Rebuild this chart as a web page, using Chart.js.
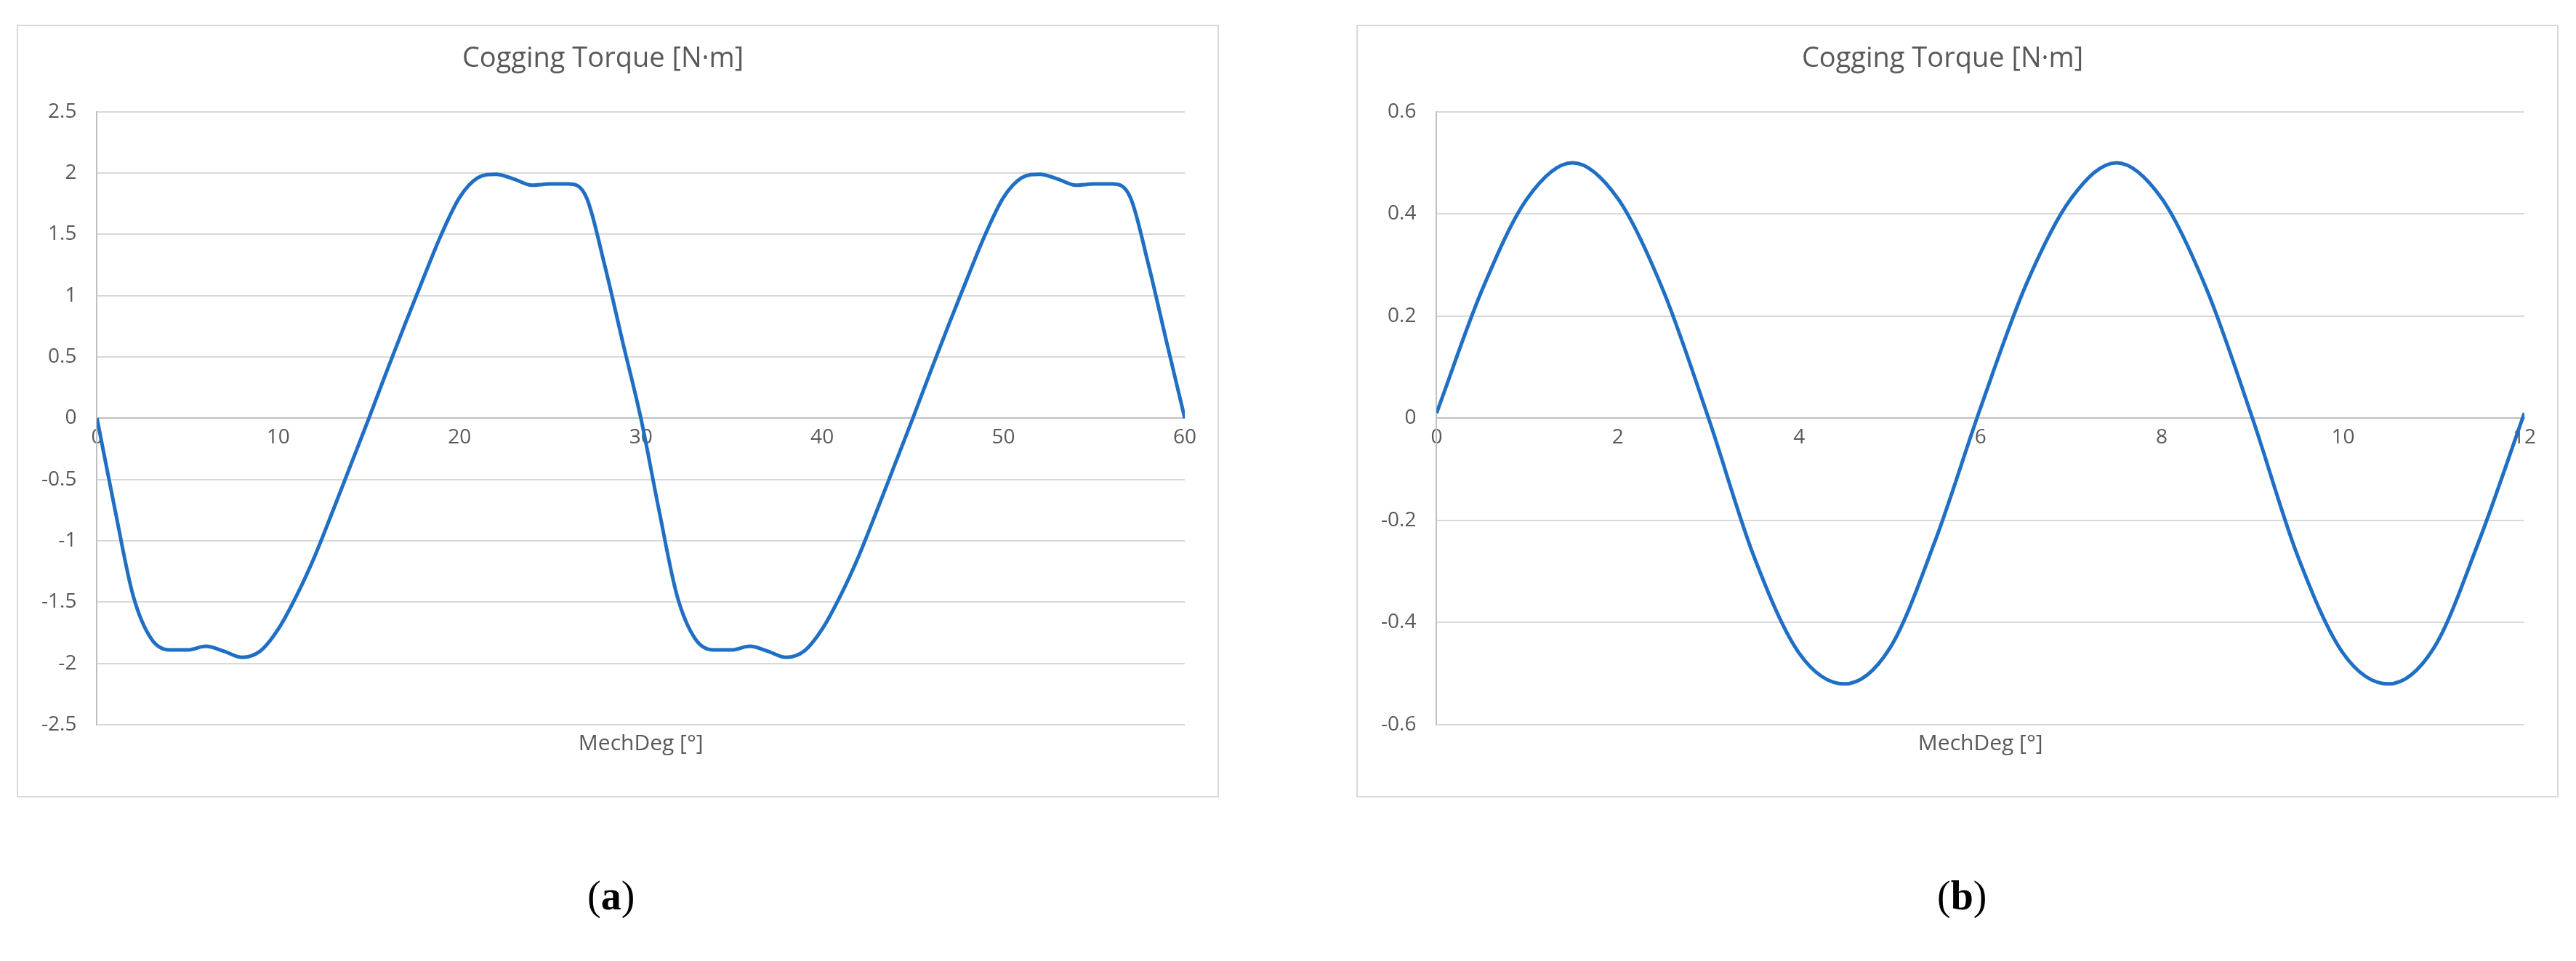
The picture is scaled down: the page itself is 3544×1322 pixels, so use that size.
<!DOCTYPE html>
<html>
<head>
<meta charset="utf-8">
<script src="https://cdn.jsdelivr.net/npm/chart.js@4/dist/chart.umd.min.js"></script>
<style>
  body { margin: 0; width: 3544px; height: 1322px; background: #fff; position: relative; overflow: hidden; }
  .box { position: absolute; top: 34px; width: 1654px; height: 1063px; border: 2px solid #d9d9d9; box-sizing: border-box; }
  .cap { position: absolute; top: 1200px; font-family: 'Liberation Serif', serif; font-size: 56px; color: #000; }
</style>
</head>
<body>
<div class="box" style="left:23px"><canvas id="chartA"></canvas></div>
<div class="box" style="left:1866px"><canvas id="chartB"></canvas></div>
<div class="cap" style="left:808px">(<b>a</b>)</div>
<div class="cap" style="left:2665px">(<b>b</b>)</div>
<script>
// cogging torque, panel (a): 0..60 mech deg, 1 deg step
const degA = [0,1,2,3,4,5,6,7,8,9,10,11,12,13,14,15,16,17,18,19,20,21,22,23,24,25,26,27,28,29,30,
              31,32,33,34,35,36,37,38,39,40,41,42,43,44,45,46,47,48,49,50,51,52,53,54,55,56,57,58,59,60];
const torqueA = [0,-0.75,-1.45,-1.8,-1.89,-1.89,-1.86,-1.9,-1.95,-1.9,-1.72,-1.45,-1.13,-0.76,-0.38,0,
                 0.39,0.77,1.14,1.5,1.8,1.96,1.99,1.95,1.9,1.91,1.91,1.8,1.25,0.62,0,
                 -0.75,-1.45,-1.8,-1.89,-1.89,-1.86,-1.9,-1.95,-1.9,-1.72,-1.45,-1.13,-0.76,-0.38,0,
                 0.39,0.77,1.14,1.5,1.8,1.96,1.99,1.95,1.9,1.91,1.91,1.8,1.25,0.62,0];

// panel (b): 0..12 mech deg, 0.5 deg step
const degB = [0,0.5,1,1.5,2,2.5,3,3.5,4,4.5,5,5.5,6,6.5,7,7.5,8,8.5,9,9.5,10,10.5,11,11.5,12];
const torqueB = [0.01,0.25,0.43,0.5,0.43,0.25,0.0,-0.27,-0.46,-0.52,-0.45,-0.24,0.02,
                 0.26,0.43,0.5,0.43,0.25,0.0,-0.27,-0.46,-0.52,-0.45,-0.24,0.01];

const titleText = 'Cogging Torque [N·m]';
const xTitle = 'MechDeg [°]';

Chart.defaults.color = '#595959';
Chart.defaults.font.family = "'Open Sans', sans-serif";
Chart.defaults.font.size = 28;

function makeChart(id, xs, ys, xMax, xStep, yMin, yMax, yStep) {
    const pts = xs.map((x, i) => ({ x: x, y: ys[i] }));
    return new Chart(document.getElementById(id), {
        type: 'line',
        data: {
            datasets: [{
                data: pts,
                borderColor: '#1f6fc5',
                borderWidth: 5,
                pointRadius: 0,
                cubicInterpolationMode: 'monotone',
                xAxisID: 'x',
                yAxisID: 'y'
            }]
        },
        options: {
            responsive: false,
            animation: false,
            layout: { padding: { left: 4, right: 45, top: 6, bottom: 50 } },
            plugins: {
                legend: { display: false },
                tooltip: { enabled: false },
                title: {
                    display: true,
                    text: titleText,
                    font: { size: 38, weight: 'normal' },
                    padding: { top: 16, bottom: 50 }
                }
            },
            scales: {
                x: {
                    type: 'linear',
                    position: { y: 0 },
                    min: 0, max: xMax,
                    grid: { display: false, drawTicks: false },
                    border: { color: '#bfbfbf', width: 2 },
                    ticks: { stepSize: xStep, padding: 10, maxRotation: 0 }
                },
                x2: {
                    type: 'linear',
                    position: 'bottom',
                    min: 0, max: xMax,
                    grid: { display: false, drawTicks: false },
                    border: { display: false },
                    ticks: { display: false },
                    title: { display: true, text: xTitle, font: { size: 30 }, padding: { top: 8 } }
                },
                y: {
                    min: yMin, max: yMax,
                    grid: { color: '#d9d9d9', lineWidth: 2, drawTicks: false },
                    border: { color: '#bfbfbf', width: 2 },
                    ticks: {
                        stepSize: yStep, padding: 28,
                        callback: v => String(Math.round(v * 10) / 10)
                    }
                }
            }
        }
    });
}

['chartA', 'chartB'].forEach(id => {
    const c = document.getElementById(id);
    c.width = 1650; c.height = 1059;
});
makeChart('chartA', degA, torqueA, 60, 10, -2.5, 2.5, 0.5);
makeChart('chartB', degB, torqueB, 12, 2, -0.6, 0.6, 0.2);
</script>
</body>
</html>
